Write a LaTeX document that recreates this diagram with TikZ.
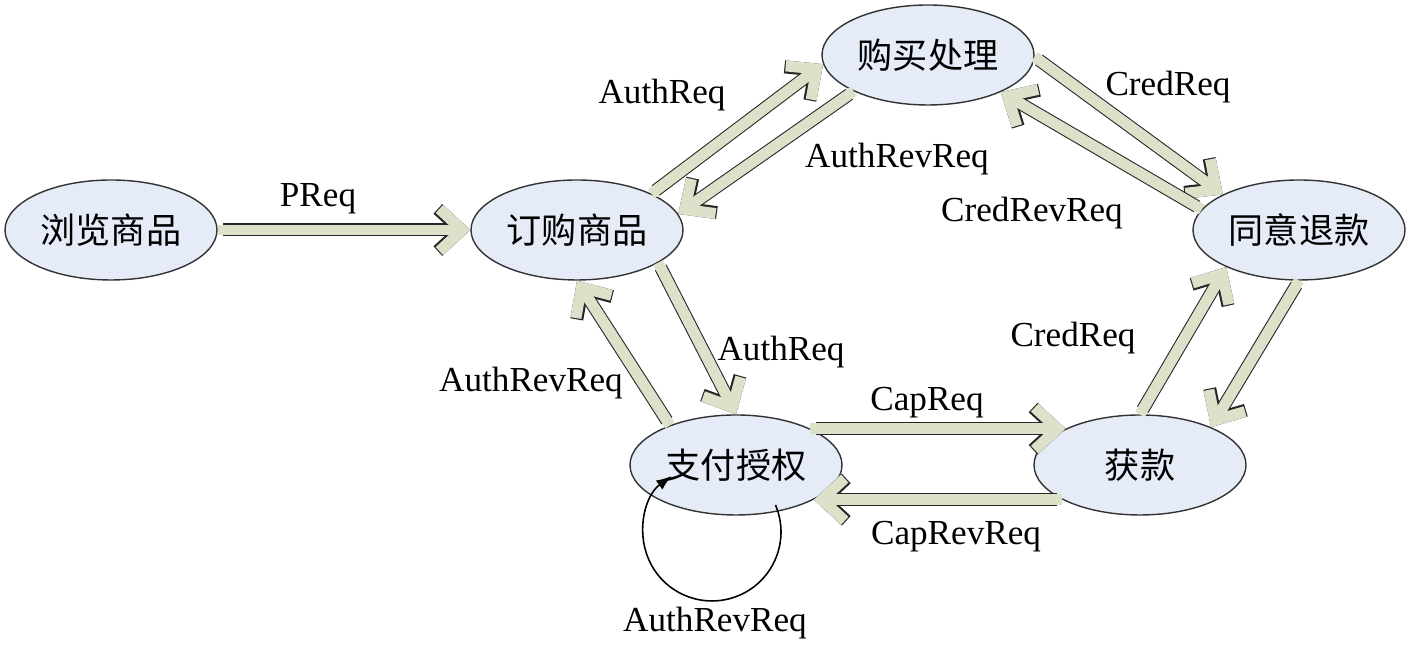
\documentclass[tikz,border=0pt]{standalone}
\usepackage{fontspec}
\setmainfont{Liberation Serif}
\newfontfamily\cjk{Noto Sans CJK SC}
\usepackage{xcolor}
\usepackage{tikz}
\usetikzlibrary{arrows.meta, positioning, calc, shapes.geometric}
\definecolor{sblue}{HTML}{E5ECF7}
\definecolor{solive}{HTML}{DDE1CA}

\tikzset{
  state/.style={ellipse, draw=black!80, line width=0.4pt, fill=sblue, inner sep=0pt,
    minimum width=2.12cm, minimum height=1.0cm, font=\cjk\fontsize{10pt}{12pt}\selectfont},
  msg/.style={draw=solive, line width=3.1pt, line cap=rect, shorten <=1.5pt,
    -{Straight Barb[length=6.5pt, width=12pt]},
    preaction={draw=black!85, line width=3.7pt}},
  msglabel/.style={font=\fontsize{10pt}{12pt}\selectfont, inner sep=0pt},
  selfloop/.style={draw=black, line width=0.45pt, -{Latex[length=4.3pt, width=3.2pt]}}
}

\begin{document}
\begin{tikzpicture}[x=1cm, y=1cm]
\useasboundingbox (0,0) rectangle (14.11,6.50);

% states
\node[state] (browse)  at (1.11,4.20) {浏览商品};
\node[state] (order)   at (5.77,4.20) {订购商品};
\node[state] (buy)     at (9.28,5.95) {购买处理};
\node[state] (refund)  at (12.99,4.20) {同意退款};
\node[state] (authz)   at (7.36,1.85) {支付授权};
\node[state] (capture) at (11.40,1.85) {获款};

% messages
\draw[msg] (browse.0) -- (order.180);
\draw[msg] (order.26) -- (buy.185);
\draw[msg] (buy.206) -- (order.9);
\draw[msg] (buy.-1) -- (refund.155);
\draw[msg] (refund.168) -- (buy.-27);
\draw[msg] (capture.90) -- (refund.207);
\draw[msg] (refund.-90) -- (capture.28);
\draw[msg] (order.-22) -- (authz.90);
\draw[msg] (authz.149) -- (order.-90);
\draw[msg] (authz.26) -- (capture.154);
\draw[msg] (capture.204) -- (authz.-24);

% self loop on authz
\coordinate (loopstart) at ($(authz)+(0.395,-0.40)$);
\draw[selfloop] (loopstart) arc[start angle=23, end angle=-234, radius=0.69];

% labels
\node[msglabel] (lpreq)     at (3.18,4.51) {PReq};
\node[msglabel] (lauthreq)  at (6.62,5.55) {AuthReq};
\node[msglabel] (lauthrev)  at (8.97,4.91) {AuthRevReq};
\node[msglabel] (lcredreq)  at (11.68,5.63) {CredReq};
\node[msglabel] (lcredrev)  at (10.32,4.37) {CredRevReq};
\node[msglabel] (lcredreq2) at (10.73,3.12) {CredReq};
\node[msglabel] (lauthreq2) at (7.81,2.98) {AuthReq};
\node[msglabel] (lauthrev2) at (5.31,2.67) {AuthRevReq};
\node[msglabel] (lcapreq)   at (9.27,2.47) {CapReq};
\node[msglabel] (lcaprev)   at (9.56,1.13) {CapRevReq};
\node[msglabel] (lauthrev3) at (7.15,0.27) {AuthRevReq};
\end{tikzpicture}
\end{document}
